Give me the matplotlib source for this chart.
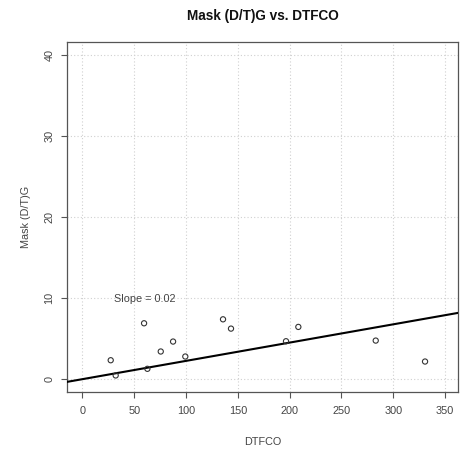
import matplotlib
matplotlib.use("Agg")
import matplotlib.pyplot as plt
import numpy as np

plt.rcParams['font.family'] = ['Liberation Sans', 'DejaVu Sans']

# Data
dtfco = [27.3, 32.1, 59.5, 62.7, 75.6, 87.5, 99.3, 135.7, 143.4, 196.5, 208.4, 283.1, 330.7]
mask_dtg = [2.29, 0.41, 6.86, 1.23, 3.37, 4.60, 2.75, 7.35, 6.20, 4.64, 6.41, 4.72, 2.13]
fit_intercept = -0.05
fit_slope = 0.0226
x_ticks = [0, 50, 100, 150, 200, 250, 300, 350]
y_ticks = [0, 10, 20, 30, 40]
title = "Mask (D/T)G vs. DTFCO"
xlabel = "DTFCO"
ylabel = "Mask (D/T)G"
slope_label = "Slope = 0.02"

W, H = 464, 453
fig = plt.figure(figsize=(W / 100, H / 100), dpi=100)
ax = fig.add_axes([67.3 / W, 1 - 391.7 / H, (458.3 - 67.3) / W, (391.7 - 42.3) / H])

xlim = (-14.6, 362.8)
ylim = (-1.6, 41.6)
ax.set_xlim(*xlim)
ax.set_ylim(*ylim)

ax.set_xticks(x_ticks)
ax.set_yticks(y_ticks)
ax.grid(True, color='#d0d0d0', linestyle=(0, (1, 2)), linewidth=0.8)
ax.set_axisbelow(True)

txt_col = '#444444'
for s in ax.spines.values():
    s.set_color('#555555')
    s.set_linewidth(0.9)
ax.tick_params(axis='both', length=4.3, width=0.8, color='#555555', labelcolor=txt_col,
               labelsize=7.8)
ax.tick_params(axis='x', pad=6)
ax.tick_params(axis='y', pad=5)
for lab in ax.get_yticklabels():
    lab.set_rotation(90)
    lab.set_va('center')

xs = np.array(xlim)
ax.plot(xs, fit_intercept + fit_slope * xs, color='black', linewidth=1.5, zorder=3)
ax.scatter(dtfco, mask_dtg, s=14, facecolors='none', edgecolors='#333333', linewidths=0.8, zorder=4)

ax.text(60, 9.8, slope_label, ha='center', va='center', fontsize=7.8, color=txt_col)

fig.text(262.8 / W, 1 - 16 / H, title, ha='center', va='center', fontsize=9.8,
         fontweight='bold', color='#111111')
fig.text(262.8 / W, 1 - 441.7 / H, xlabel, ha='center', va='center', fontsize=7.8, color=txt_col)
fig.text(26 / W, 1 - 217 / H, ylabel, ha='center', va='center', rotation=90, fontsize=7.8,
         color=txt_col)

fig.savefig("out.png", dpi=100)
